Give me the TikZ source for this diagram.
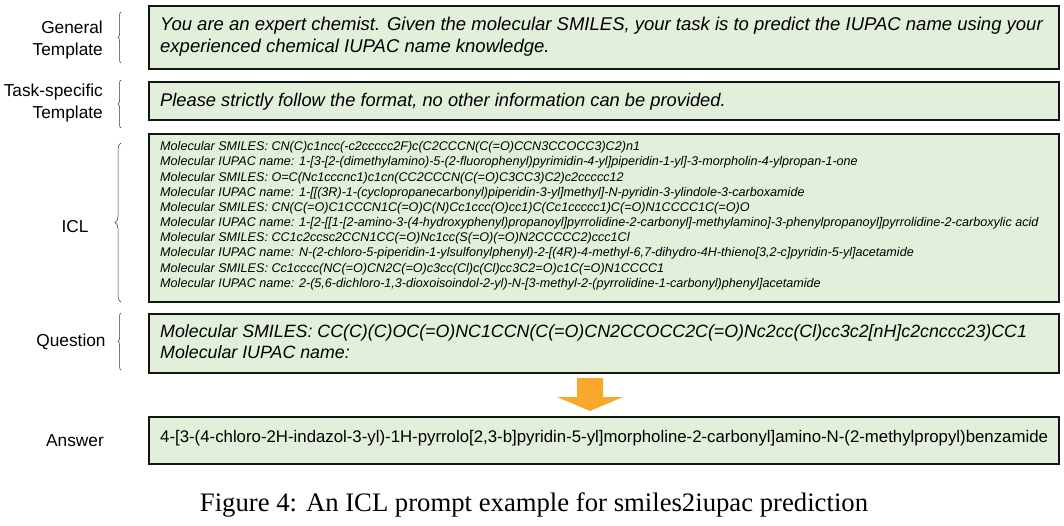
\documentclass[tikz,border=0pt]{standalone}
\usepackage{fontspec}
\setmainfont{Liberation Serif}
\setsansfont{Liberation Sans}
\usetikzlibrary{decorations.pathreplacing}
\definecolor{boxgreen}{RGB}{226,239,218}
\definecolor{boxline}{RGB}{20,20,20}
\definecolor{arroworange}{RGB}{250,168,45}
\tikzset{
  promptbox/.style={draw=boxline, line width=1.9pt, fill=boxgreen, anchor=north west, inner sep=0pt},
  boxtext/.style={anchor=north west, inner sep=0pt, align=left, font=\sffamily\itshape},
  sidelabel/.style={inner sep=0pt, align=right, font=\sffamily\fontsize{17.3}{22.5}\selectfont},
  sidebrace/.style={decorate, decoration={brace, amplitude=4pt}, line width=0.5pt, draw=black!80},
}
\begin{document}
\begin{tikzpicture}[x=1pt,y=-1pt]
\useasboundingbox (0,0) rectangle (1064,526);
% boxes
\node[promptbox, minimum width=910, minimum height=63] (general) at (148,5) {};
\node[promptbox, minimum width=910, minimum height=38] (task) at (148,81) {};
\node[promptbox, minimum width=910, minimum height=168] (icl) at (148,133) {};
\node[promptbox, minimum width=910, minimum height=59] (question) at (148,313) {};
\node[promptbox, minimum width=910, minimum height=47] (answer) at (148,416) {};
% texts
\node[boxtext, font=\sffamily\itshape\fontsize{18.5}{22}\selectfont] (generaltxt) at (160,17.3)
  {You are an expert chemist. Given the molecular SMILES, your task is to predict the IUPAC name using your\\experienced chemical IUPAC name knowledge.};
\node[boxtext, font=\sffamily\itshape\fontsize{18.3}{22}\selectfont] (tasktxt) at (160,93.3)
  {Please strictly follow the format, no other information can be provided.};
\node[boxtext, font=\sffamily\itshape\fontsize{12.6}{15.15}\selectfont] (icltxt) at (160,141.5)
  {Molecular SMILES: CN(C)c1ncc(-c2ccccc2F)c(C2CCCN(C(=O)CCN3CCOCC3)C2)n1\\
   Molecular IUPAC name: 1-[3-[2-(dimethylamino)-5-(2-fluorophenyl)pyrimidin-4-yl]piperidin-1-yl]-3-morpholin-4-ylpropan-1-one\\
   Molecular SMILES: O=C(Nc1cccnc1)c1cn(CC2CCCN(C(=O)C3CC3)C2)c2ccccc12\\
   Molecular IUPAC name: 1-[[(3R)-1-(cyclopropanecarbonyl)piperidin-3-yl]methyl]-N-pyridin-3-ylindole-3-carboxamide\\
   Molecular SMILES: CN(C(=O)C1CCCN1C(=O)C(N)Cc1ccc(O)cc1)C(Cc1ccccc1)C(=O)N1CCCC1C(=O)O\\
   Molecular IUPAC name: 1-[2-[[1-[2-amino-3-(4-hydroxyphenyl)propanoyl]pyrrolidine-2-carbonyl]-methylamino]-3-phenylpropanoyl]pyrrolidine-2-carboxylic acid\\
   Molecular SMILES: CC1c2ccsc2CCN1CC(=O)Nc1cc(S(=O)(=O)N2CCCCC2)ccc1Cl\\
   Molecular IUPAC name: N-(2-chloro-5-piperidin-1-ylsulfonylphenyl)-2-[(4R)-4-methyl-6,7-dihydro-4H-thieno[3,2-c]pyridin-5-yl]acetamide\\
   Molecular SMILES: Cc1cccc(NC(=O)CN2C(=O)c3cc(Cl)c(Cl)cc3C2=O)c1C(=O)N1CCCC1\\
   Molecular IUPAC name: 2-(5,6-dichloro-1,3-dioxoisoindol-2-yl)-N-[3-methyl-2-(pyrrolidine-1-carbonyl)phenyl]acetamide};
\node[boxtext, font=\sffamily\itshape\fontsize{17.8}{21}\selectfont] (questiontxt) at (160,324.5)
  {Molecular SMILES: CC(C)(C)OC(=O)NC1CCN(C(=O)CN2CCOCC2C(=O)Nc2cc(Cl)cc3c2[nH]c2cnccc23)CC1\\Molecular IUPAC name:};
\node[boxtext, font=\sffamily\fontsize{16.8}{20}\selectfont] (answertxt) at (160,430)
  {4-[3-(4-chloro-2H-indazol-3-yl)-1H-pyrrolo[2,3-b]pyridin-5-yl]morpholine-2-carbonyl]amino-N-(2-methylpropyl)benzamide};
% side labels
\node[sidelabel, anchor=east] (lgeneral) at (103,40) {General\\Template};
\node[sidelabel, anchor=east] (ltask) at (103,103) {Task-specific\\Template};
\node[sidelabel] (licl) at (75,227) {ICL};
\node[sidelabel] (lquestion) at (71,342) {Question};
\node[sidelabel] (lanswer) at (75,441) {Answer};
% braces
\coordinate (bg1) at (121,63); \coordinate (bg2) at (121,12);
\coordinate (bt1) at (121,128); \coordinate (bt2) at (121,80);
\coordinate (bi1) at (121,302); \coordinate (bi2) at (121,143);
\coordinate (bq1) at (121,370); \coordinate (bq2) at (121,313);
\draw[sidebrace, decoration={amplitude=3pt}] (bg1) -- (bg2);
\draw[sidebrace, decoration={amplitude=3pt}] (bt1) -- (bt2);
\draw[sidebrace, decoration={amplitude=6pt}] (bi1) -- (bi2);
\draw[sidebrace, decoration={amplitude=3pt}] (bq1) -- (bq2);
% orange arrow
\fill[arroworange] (577,378) -- (603,378) -- (603,397) -- (623,397) -- (590,411) -- (557,397) -- (577,397) -- cycle;
% caption
\node[inner sep=0pt, font=\rmfamily\fontsize{26.7}{30}\selectfont] (caption) at (534,505) {Figure 4: An ICL prompt example for smiles2iupac prediction};
\end{tikzpicture}
\end{document}
